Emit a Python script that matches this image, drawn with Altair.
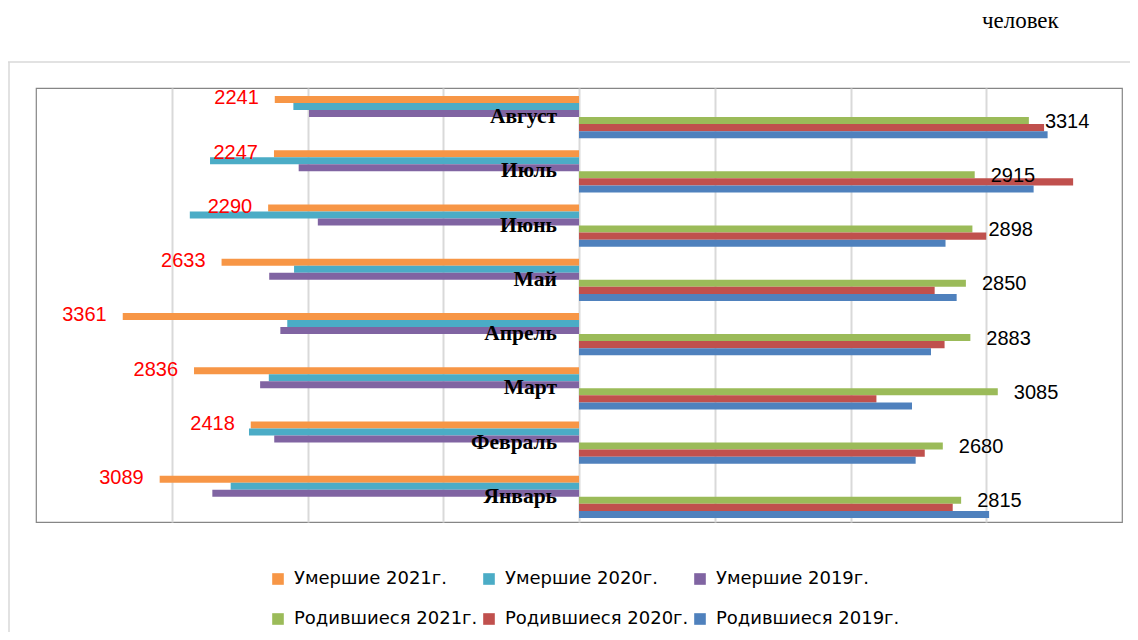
import altair as alt
import pandas as pd

months = ["Январь", "Февраль", "Март", "Апрель", "Май", "Июнь", "Июль", "Август"]
series = ["Умершие 2021г.", "Умершие 2020г.", "Умершие 2019г.",
          "Родившиеся 2021г.", "Родившиеся 2020г.", "Родившиеся 2019г."]
colors = ["#F79646", "#4BACC6", "#8064A2", "#9BBB59", "#C0504D", "#4F81BD"]

deaths_2021 = [3089, 2418, 2836, 3361, 2633, 2290, 2247, 2241]
deaths_2020 = [2566, 2431, 2285, 2149, 2099, 2867, 2718, 2104]
deaths_2019 = [2701, 2245, 2349, 2200, 2282, 1924, 2065, 1989]
births_2021 = [2815, 2680, 3085, 2883, 2850, 2898, 2915, 3314]
births_2020 = [2753, 2547, 2191, 2693, 2620, 3000, 3640, 3426]
births_2019 = [3021, 2480, 2453, 2593, 2782, 2700, 3349, 3452]

grid_values = [-3000, -2000, -1000, 0, 1000, 2000, 3000]

rows = []
for s, vals, sign in [
    (series[0], deaths_2021, -1), (series[1], deaths_2020, -1), (series[2], deaths_2019, -1),
    (series[3], births_2021, 1), (series[4], births_2020, 1), (series[5], births_2019, 1),
]:
    for m, v in zip(months, vals):
        rows.append({"month": m, "series": s, "value": sign * v, "label": str(v)})
df = pd.DataFrame(rows)

month_order = list(reversed(months))

y_enc = alt.Y("month:N", sort=month_order, axis=None,
              scale=alt.Scale(paddingInner=0.22, paddingOuter=0.11, align=0.66))
yoff_enc = alt.YOffset("series:N", sort=series, scale=alt.Scale(paddingInner=0, paddingOuter=0))
x_scale = alt.Scale(domain=[-4000, 4000], nice=False)

bars = alt.Chart(df).mark_bar(strokeWidth=0).encode(
    x=alt.X("value:Q", scale=x_scale,
            axis=alt.Axis(values=grid_values, labels=False, ticks=False, domain=False,
                          grid=True, gridColor="#d9d9d9", gridWidth=2, title=None)),
    y=y_enc,
    yOffset=yoff_enc,
    color=alt.Color("series:N", sort=series,
                    scale=alt.Scale(domain=series, range=colors),
                    legend=alt.Legend(title=None, orient="none", legendX=233, legendY=482,
                                      columns=3, direction="horizontal",
                                      symbolType="square", symbolSize=135,
                                      symbolStrokeWidth=0, labelFont="DejaVu Sans",
                                      labelFontSize=18, labelColor="#000000",
                                      rowPadding=22, columnPadding=2, labelOffset=7,
                                      labelLimit=400)),
)

death_labels = alt.Chart(df[df.series == series[0]]).mark_text(
    align="right", baseline="middle", dx=-16, dy=-1, font="Liberation Sans",
    fontSize=20, color="#FF0000").encode(
    x=alt.X("value:Q", scale=x_scale), y=y_enc, yOffset=yoff_enc, text="label:N")

birth_labels = alt.Chart(df[df.series == series[3]]).mark_text(
    align="left", baseline="middle", dx=16, dy=1, font="Liberation Sans",
    fontSize=20, color="#000000").encode(
    x=alt.X("value:Q", scale=x_scale), y=y_enc, yOffset=yoff_enc, text="label:N")

month_df = pd.DataFrame({"month": months})
month_labels = alt.Chart(month_df).mark_text(
    align="right", baseline="middle", dx=-22, dy=0, font="Liberation Serif",
    fontSize=21.5, fontWeight="bold", color="#000000").encode(
    x=alt.datum(0), y=y_enc, text="month:N")

dummy = pd.DataFrame({"k": [0]})
border_top = alt.Chart(dummy).mark_rule(color="#d9d9d9", strokeWidth=1.5).encode(
    x=alt.value(-28), x2=alt.value(1100), y=alt.value(-26))
border_left = alt.Chart(dummy).mark_rule(color="#d9d9d9", strokeWidth=1.5).encode(
    x=alt.value(-27), y=alt.value(-26), y2=alt.value(560))

chart = alt.layer(border_top, border_left, bars, death_labels, birth_labels, month_labels).properties(
    width=1086, height=434,
    title=alt.TitleParams("человек", anchor="end", font="Liberation Serif", fontSize=23,
                          fontWeight="normal", color="#000000", offset=28, dx=-78),
).configure_view(stroke="#868686", strokeWidth=1.2).properties(
    autosize=alt.AutoSizeParams(type="none"),
    padding={"left": 28, "top": 80, "right": 8, "bottom": 110},
)

chart.save("out.html", embed_options={"renderer": "svg", "actions": False})
